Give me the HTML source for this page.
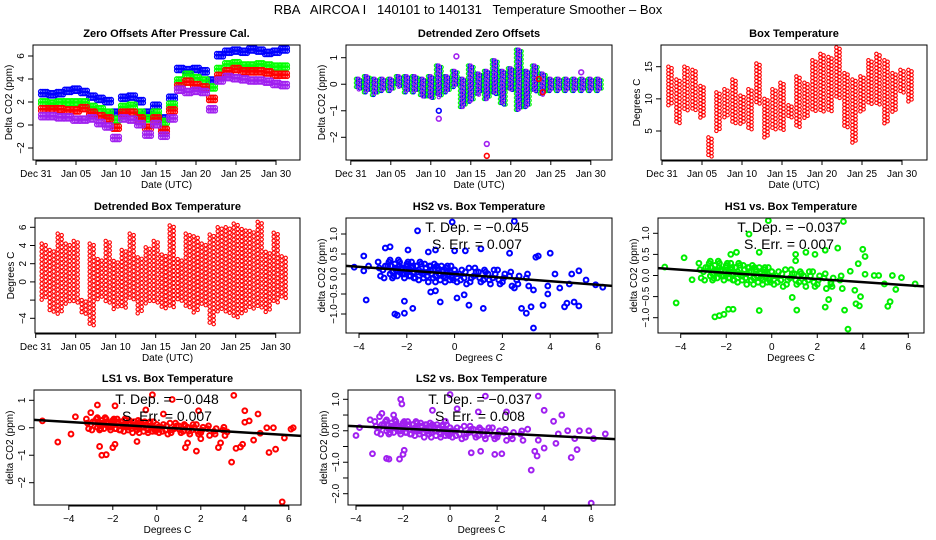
<!DOCTYPE html>
<html><head><meta charset="utf-8"><style>
body{margin:0;background:#fff}
svg{display:block;font-family:"Liberation Sans",sans-serif}
</style></head><body>
<svg id="c" width="936" height="540" viewBox="0 0 936 540">
<rect width="936" height="540" fill="#fff"/>
<text x="468" y="14" font-size="13" text-anchor="middle" style="white-space:pre">RBA   AIRCOA I   140101 to 140131   Temperature Smoother – Box</text>
</svg>
<script>
// ---- data ----
const days=[1,2,3,4,5,6,7,8,9,10,11,12,13,14,15,16,17,18,19,20,21,22,23,24,25,26,27,28,29,30,31];
const zoBlue=[2.7,2.6,2.7,2.9,3.0,2.8,2.4,2.2,2.0,1.0,2.3,2.4,2.0,1.0,1.6,0.5,2.3,4.8,4.7,4.8,4.6,3.8,6.0,6.3,6.4,6.3,6.5,6.4,6.2,6.3,6.5];
const zoGreen=[1.9,1.8,1.9,1.9,1.9,1.9,1.5,1.3,1.0,0.4,1.5,1.6,1.0,0.5,1.0,0.2,1.7,3.8,4.3,4.0,3.8,3.2,4.8,5.2,5.3,5.1,5.1,5.2,5.1,5.0,5.0];
const zoRed=[1.3,1.3,1.3,1.2,1.2,1.4,1.0,0.7,0.5,-0.3,1.0,1.0,0.5,-0.3,0.5,-0.5,1.2,3.3,3.7,3.4,3.2,2.2,4.2,4.6,4.8,4.6,4.6,4.6,4.5,4.3,4.3];
const zoPurple=[0.7,0.7,0.6,0.6,0.4,0.4,0.5,0.1,-0.2,-1.2,0.5,0.4,0.0,-0.9,0.0,-1.0,0.5,3.0,2.8,2.9,2.8,1.3,3.8,4.1,4.0,3.9,3.8,3.8,3.7,3.5,3.4];
const detHi=[0.2,0.3,0.2,0.2,0.2,0.3,0.3,0.3,0.2,0.3,0.7,0.3,0.5,0.2,0.7,0.4,0.5,0.9,0.5,0.6,1.3,0.5,0.7,0.4,0.2,0.2,0.2,0.2,0.2,0.2,0.2];
const detLo=[-0.2,-0.3,-0.4,-0.3,-0.3,-0.1,-0.3,-0.3,-0.5,-0.6,-0.5,-0.3,-0.1,-0.9,-0.7,-0.4,-0.6,-0.4,-0.8,-0.3,-1.0,-0.9,-0.3,-0.4,-0.3,-0.3,-0.3,-0.3,-0.3,-0.3,-0.3];
const detOutT=[17,17,11,11,13.2,28.8,23.5,24];
const detOutV=[-2.25,-2.7,-1.3,-1.0,1.05,0.45,0.2,-0.3];
const detOutC=["#a020f0","#ff0000","#a020f0","#0000ff","#a020f0","#a020f0","#ff0000","#ff0000"];
const btHi=[15,13,15,14.5,12,4,11,11.5,13,10.5,11.5,15.5,10,11.5,12.5,9,13.5,12.5,16,17,16.5,18,14,13,13.5,16,17,16,14,14.5,14.5];
const btLo=[9,6,8,8,7,1,5,7,6,6,5,9,4,5,5,7,5.5,7,8,8,8,10,5.5,3,8,9,9,6,8,11,9.5];
const dbtHi=[4.2,3.5,5.3,4.2,4.5,-2,4.2,2.5,4.5,2.3,3.5,5.3,2.7,3.8,4.5,3,6.2,2.5,5.3,5,4.2,5.2,6,6,6.4,5.8,5.6,6.6,3.3,5.4,2.8];
const dbtLo=[-2,-3.5,-3.5,-2.5,-2.3,-3.7,-5,-2,-2.3,-3,-3,-2,-3.5,-2.5,-2.5,-3,-3,-2.3,-3,-3.5,-2.7,-4.7,-3.3,-3.5,-4,-3.5,-3,-3,-3.3,-2.5,-2];
const coreX=[-3.2,-3.0,-2.8,-2.7,-2.6,-2.5,-2.4,-2.3,-2.2,-2.1,-2.0,-1.9,-1.8,-1.7,-1.6,-1.5,-1.4,-1.3,-1.2,-1.1,-1.0,-0.9,-0.8,-0.7,-0.6,-0.5,-0.4,-0.3,-0.2,-0.1,0.0,0.2,0.4,0.6,0.8,1.0,1.2,1.4,1.6,1.8,2.0,2.3,2.6,3.0];
const coreYa=[0.3,0.1,0.2,0.35,0.05,0.25,0.1,0.3,0.15,0.0,0.2,0.1,0.3,0.05,0.2,0.1,0.25,0.0,0.15,0.05,0.2,0.1,-0.05,0.15,0.0,0.1,-0.1,0.2,0.05,-0.05,0.1,0.0,-0.1,0.15,-0.05,0.05,-0.15,0.0,-0.1,0.1,-0.2,-0.05,-0.15,-0.1];
const coreYb=[-0.05,0.2,0.0,-0.1,0.15,-0.05,0.2,0.0,-0.1,0.25,-0.05,0.15,-0.1,0.2,-0.15,0.05,-0.1,0.15,-0.2,0.1,-0.1,-0.2,0.1,-0.15,0.05,-0.2,0.05,-0.15,-0.1,0.1,-0.2,0.1,-0.25,-0.1,0.05,-0.2,0.05,-0.25,0.0,-0.25,0.0,-0.3,-0.05,-0.3];
const coreYc=[0.15,-0.1,0.3,0.2,-0.05,0.1,0.35,0.15,0.0,0.1,0.3,-0.05,0.2,-0.1,0.05,0.3,0.0,0.25,-0.05,0.2,0.0,0.25,0.2,0.0,0.2,-0.05,0.15,0.0,0.2,-0.15,0.0,-0.15,0.05,-0.2,0.15,-0.1,0.1,-0.15,0.1,-0.15,-0.1,0.05,-0.25,0.0];
const hs2X=[-4.2,-3.8,-3.8,-3.7,-3.6,-2.9,-2.7,-2.5,-2.4,-2.1,-2.1,-1.95,-1.75,-1.55,-1.1,-1.0,-0.8,-0.8,-0.6,-0.1,0.0,0.1,0.4,0.45,0.6,1.2,1.1,2.3,2.5,2.5,2.8,3.0,3.2,3.3,3.3,3.4,3.5,3.7,3.9,4.0,4.4,4.6,4.7,4.8,5.0,5.2,5.2,5.5,5.9,6.2,3.9,4.2,4.9];
const hs2Y=[0.17,0.45,0.08,-0.65,0.2,0.65,0.68,-1.0,-1.03,-0.98,-0.68,0.6,-0.86,1.08,0.55,-0.45,0.6,-0.42,-0.7,1.3,0.58,-0.6,-0.52,0.58,-0.78,-0.86,0.63,0.52,1.32,-0.35,-0.86,-0.98,-0.82,-1.35,-0.4,0.42,0.45,-0.78,-0.5,0.52,-0.35,-0.82,-0.73,-0.25,-0.7,-0.8,0.08,-0.15,-0.27,-0.33,-0.3,0.0,0.0];
const hs1X=[-4.7,-4.2,-3.85,-3.5,-2.5,-2.3,-2.1,-1.9,-1.7,-1.8,-1.55,-1.0,-0.55,-0.55,-0.15,0.9,1.05,1.05,1.1,1.5,1.9,2.35,2.35,2.5,2.9,3.15,3.2,3.35,3.45,3.65,3.7,3.8,3.85,3.9,4.0,4.1,4.1,4.5,4.7,5.1,5.2,5.3,5.45,5.7,6.3,4.95,2.6];
const hs1Y=[0.2,-0.65,0.42,-0.1,-0.98,-0.95,-0.92,-0.8,-0.8,0.5,0.55,0.98,-0.83,0.55,1.3,-0.52,0.5,0.35,-0.82,0.55,0.5,-0.75,0.6,-0.57,0.65,1.28,-0.82,-1.27,0.1,-0.35,-0.67,0.28,-0.72,-0.5,0.62,0.45,0.03,0.0,0.0,-0.73,-0.62,0.0,-0.33,-0.05,-0.2,-0.2,-0.2];
const ls1X=[-5.2,-4.5,-3.9,-3.7,-3.0,-2.7,-2.6,-2.5,-2.3,-1.9,-1.9,-2.0,-0.9,-0.5,-0.2,0.3,0.7,1.3,1.4,1.8,1.9,2.0,2.8,2.9,3.4,3.5,3.6,3.8,3.9,4.0,4.0,4.2,4.4,4.6,5.0,5.1,5.3,5.4,5.7,5.8,6.1,6.2,4.7,3.2];
const ls1Y=[0.25,-0.52,-0.23,0.4,0.55,0.83,-0.68,-1.0,-0.98,0.8,-0.6,-0.72,-0.5,0.65,1.2,0.5,1.03,-0.72,-0.55,-0.85,0.62,-0.4,-0.72,-0.55,-1.25,1.18,-0.75,-0.7,-0.6,0.62,0.2,0.25,-0.45,0.5,0.0,-0.9,0.0,-0.78,-2.7,-0.37,-0.05,0.0,-0.2,-0.15];
const ls2X=[-4.0,-3.85,-3.4,-3.3,-3.0,-2.9,-2.7,-2.6,-2.4,-2.15,-2.1,-2.05,-2.0,-1.95,-0.75,-0.2,0.0,0.3,0.9,1.2,1.3,1.5,1.9,2.2,2.4,3.3,3.45,3.6,3.7,3.75,3.75,4.0,4.0,4.4,4.5,4.6,4.75,5.0,5.15,5.3,5.4,5.5,5.9,6.0,6.1,6.6];
const ls2Y=[-0.15,0.1,0.35,-0.73,0.45,0.55,-0.88,-0.9,0.5,-0.9,1.0,0.85,-0.75,-0.62,0.65,0.3,1.15,0.7,-0.7,0.6,-0.65,1.1,-0.75,-0.73,0.6,0.05,-1.25,-0.65,-0.8,1.1,-0.3,0.65,-0.55,0.3,-0.4,-0.1,0.5,0.0,-0.85,-0.25,-0.6,0.0,0.0,-2.3,-0.25,-0.1];
const fitSlope=[-0.045,-0.037,-0.048,-0.037];
const fitIntercept=[0.0,-0.01,0.02,-0.005];
const fitSE=["0.007","0.007","0.007","0.008"];
const dateTicks=[0,5,10,15,20,25,30];
const dateLabels=["Dec 31","Jan 05","Jan 10","Jan 15","Jan 20","Jan 25","Jan 30"];

// ---- drawing ----
const svg=document.getElementById('c');
const NS='http://www.w3.org/2000/svg';
function mk(tag,attrs,parent){const e=document.createElementNS(NS,tag);for(const k in attrs)e.setAttribute(k,attrs[k]);(parent||svg).appendChild(e);return e;}
function lin(a1,p1,a2,p2){return v=>p1+(v-a1)*(p2-p1)/(a2-a1);}

function panel(o){
  const g=mk('g',{});
  
  
  const [L,T,R,B]=o.box;
  const sx=lin(o.xa[0],o.xa[1],o.xa[2],o.xa[3]);
  const sy=lin(o.ya[0],o.ya[1],o.ya[2],o.ya[3]);
  const cid='clip'+o.name;
  const cp=mk('clipPath',{id:cid},g);mk('rect',{x:L,y:T,width:R-L,height:B-T},cp);
  const plot=mk('g',{'clip-path':'url(#'+cid+')'},g);
  
  
  const t=mk('text',{x:(L+R)/2,y:T-8,'font-size':11,'font-weight':'bold','text-anchor':'middle'},g);
  
  
  t.textContent=o.title;
  o.xt.forEach((v,i)=>{const x=sx(v);mk('line',{x1:x,x2:x,y1:B,y2:B+5,stroke:'#000'},g);
    const lb=mk('text',{x:x,y:B+17,'font-size':10,'text-anchor':'middle'},g);
    
    
    lb.textContent=o.xl[i];});
  mk('line',{x1:sx(o.xt[0]),x2:sx(o.xt[o.xt.length-1]),y1:B+1,y2:B+1,stroke:'#000'},g);
  o.yt.forEach((v,i)=>{const y=sy(v);mk('line',{x1:L,x2:L-5,y1:y,y2:y,stroke:'#000'},g);
    if(o.yl[i]!==''){const lb=mk('text',{x:0,y:0,'font-size':10,'text-anchor':'middle',transform:`translate(${L-9},${y}) rotate(-90)`},g);
    
    
    lb.textContent=o.yl[i];}});
  const xl=mk('text',{x:(L+R)/2,y:B+28,'font-size':10,'text-anchor':'middle'},g);
  
  
  xl.textContent=o.xlab;
  const yl=mk('text',{x:0,y:0,'font-size':10,'text-anchor':'middle',transform:`translate(${L-21},${(T+B)/2}) rotate(-90)`},g);
  
  
  yl.textContent=o.ylab;
  return {g,plot,sx,sy,L,T,R,B,finish(){const r=mk('rect',{x:L,y:T,width:R-L,height:B-T,fill:'none',stroke:'#000'},g);}};
}
function dot(p,x,y,c,r,name,sw){const e=mk('circle',{cx:x,cy:y,r:r||2.2,fill:'none',stroke:c,'stroke-width':sw||1.4},p);
  
  }
const dayOff=[-0.4,-0.13,0.13,0.4];
function band(P,vals,c,half){vals.forEach((v,i)=>{dayOff.forEach(dx=>{
  for(let yy=P.sy(v+half);yy<=P.sy(v-half)+0.1;yy+=3){dot(P.plot,P.sx(days[i]+dx),yy,c,2.2,'series-point');}});});}
function range(P,hi,lo,c,offs,step){hi.forEach((h,i)=>{offs.forEach((dx,j)=>{
  for(let yy=P.sy(h)+j*1.5;yy<=P.sy(lo[i])+0.1;yy+=step){dot(P.plot,P.sx(days[i]+dx),yy,c,1.7,'temp-point',1.1);}});});}

// P1
let P=panel({name:'zero-offsets-panel',box:[33,45,300,160],xa:[0,36,30,276],ya:[6,56,-2,148],xt:dateTicks,xl:dateLabels,yt:[-2,0,2,4,6],yl:['−2','0','2','4','6'],title:'Zero Offsets After Pressure Cal.',xlab:'Date (UTC)',ylab:'Delta CO2 (ppm)'});
band(P,zoBlue,'#0000ff',0.2);band(P,zoGreen,'#00ff00',0.2);band(P,zoRed,'#ff0000',0.2);band(P,zoPurple,'#a020f0',0.2);
P.finish();
// P2
P=panel({name:'detrended-zero-offsets-panel',box:[346,45,612,160],xa:[0,350.8,30,590.8],ya:[1,57.7,-2,137.3],xt:dateTicks,xl:dateLabels,yt:[-2,-1,0,1],yl:['−2','−1','0','1'],title:'Detrended Zero Offsets',xlab:'Date (UTC)',ylab:'Delta CO2 (ppm)'});
range(P,detHi,detLo,'#00ff00',[-0.35,0.35],4);
range(P,detHi,detLo,'#0000ff',[-0.15,0.15],4);
range(P,detHi,detLo,'#a020f0',[0],3.5);
detOutT.forEach((t,i)=>dot(P.plot,P.sx(t),P.sy(detOutV[i]),detOutC[i],2.4,'outlier-point',1.6));
P.finish();
// P3
P=panel({name:'box-temperature-panel',box:[661,45,927,160],xa:[0,662,30,902],ya:[15,66.7,5,131],xt:dateTicks,xl:dateLabels,yt:[5,10,15],yl:['5','10','15'],title:'Box Temperature',xlab:'Date (UTC)',ylab:'Degrees C'});
range(P,btHi,btLo,'#ff0000',[-0.2,0.2],3.5);P.finish();
// P4
P=panel({name:'detrended-box-temperature-panel',box:[35,218,300,333],xa:[0,35.7,30,275.7],ya:[6,227.3,-4,318.3],xt:dateTicks,xl:dateLabels,yt:[-4,-2,0,2,4,6],yl:['−4','','0','2','4','6'],title:'Detrended Box Temperature',xlab:'Date (UTC)',ylab:'Degrees C'});
range(P,dbtHi,dbtLo,'#ff0000',[-0.25,0.25],4);P.finish();

const sxt=[-4,-2,0,2,4,6],sxl=['−4','−2','0','2','4','6'];
function scatter(name,box,xa,ya,yt,yl,title,xs,ys,c,k,tx){
  const P=panel({name,box,xa,ya,xt:sxt,xl:sxl,yt,yl,title,xlab:'Degrees C',ylab:'delta CO2 (ppm)'});
  coreX.forEach((x,i)=>{
    dot(P.plot,P.sx(x),P.sy(coreYa[i]+fitIntercept[k]),c,2.4,'scatter-point',2);
    dot(P.plot,P.sx(x+0.1),P.sy(coreYb[i]+fitIntercept[k]),c,2.4,'scatter-point',2);
    dot(P.plot,P.sx(x+0.05),P.sy(coreYc[i]+fitIntercept[k]),c,2.4,'scatter-point',2);});
  xs.forEach((x,i)=>dot(P.plot,P.sx(x),P.sy(ys[i]),c,2.4,'scatter-point',2));
  const x0=-8,x1=9;
  const ln=mk('line',{x1:P.sx(x0),y1:P.sy(fitIntercept[k]+fitSlope[k]*x0),x2:P.sx(x1),y2:P.sy(fitIntercept[k]+fitSlope[k]*x1),stroke:'#000','stroke-width':2.5},P.plot);
  
  
  const a=mk('text',{x:tx,y:P.T+14,'font-size':14,'text-anchor':'middle'},P.g);
  
  
  a.textContent='T. Dep. =  −'+Math.abs(fitSlope[k]).toFixed(3);
  const b=mk('text',{x:tx,y:P.T+31,'font-size':14,'text-anchor':'middle'},P.g);
  
  
  b.textContent='S. Err. =  '+fitSE[k];
  P.finish();
}
scatter('hs2-scatter-panel',[346,218,612,333],[-4,359,6,598],[1,234,-1,314],[-1,-0.5,0,0.5,1],['−1.0','−0.5','0.0','0.5','1.0'],'HS2 vs. Box Temperature',hs2X,hs2Y,'#0000ff',0,477);
scatter('hs1-scatter-panel',[658,218,924,333],[-4,680.7,6,908.3],[1,233.3,-1,317.7],[-1,-0.5,0,0.5,1],['−1.0','−0.5','0.0','0.5','1.0'],'HS1 vs. Box Temperature',hs1X,hs1Y,'#00ee00',1,789);
scatter('ls1-scatter-panel',[34,390,301,505],[-4,68.8,6,288.8],[1,400.3,-2,482.7],[-2,-1,0,1],['−2','−1','0','1'],'LS1 vs. Box Temperature',ls1X,ls1Y,'#ff0000',2,167);
scatter('ls2-scatter-panel',[348,390,615,505],[-4,356,6,591.2],[1,399.3,-2,493.7],[-2,-1.5,-1,-0.5,0,0.5,1],['−2.0','','−1.0','','0.0','','1.0'],'LS2 vs. Box Temperature',ls2X,ls2Y,'#a020f0',3,480);
</script>
</body></html>
